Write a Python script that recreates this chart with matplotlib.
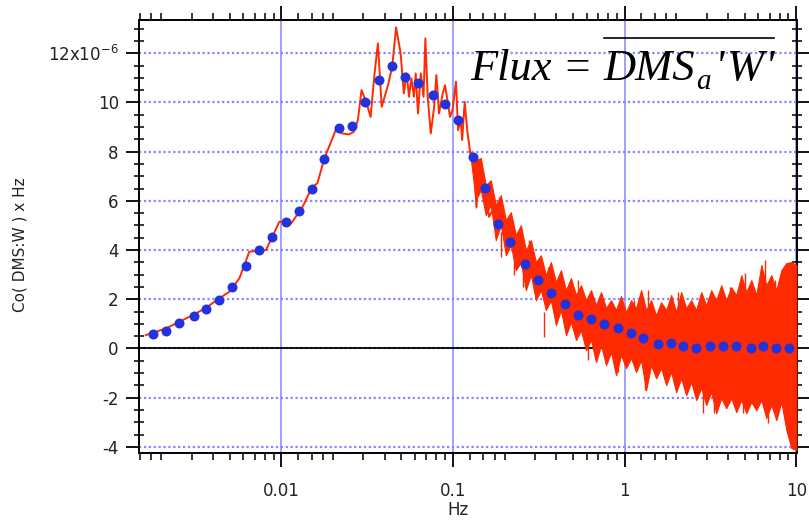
import matplotlib
matplotlib.use("Agg")
import matplotlib.pyplot as plt
from matplotlib.lines import Line2D
import numpy as np

# cospectrum (units of 1e-6), low-frequency part read as a single line
line_hz = [0.00162, 0.00212, 0.00254, 0.00303, 0.00364, 0.00433, 0.00497, 0.00569,
           0.0065, 0.00814, 0.00973, 0.0114, 0.0133, 0.0151, 0.0162, 0.0178, 0.0207,
           0.0226, 0.0247, 0.0264, 0.0279, 0.0293, 0.0312, 0.0331, 0.0349, 0.0365,
           0.0384, 0.0418, 0.0442, 0.0466, 0.0495, 0.0517, 0.0537, 0.0554, 0.0572,
           0.0592, 0.0606, 0.0625, 0.0649, 0.0673, 0.0690, 0.0712, 0.0742, 0.0776,
           0.0800, 0.0829, 0.0867, 0.0898, 0.0928, 0.0960, 0.0993, 0.104, 0.107,
           0.111, 0.113, 0.117, 0.121, 0.126, 0.132, 0.137, 0.141, 0.148, 0.155,
           0.162, 0.170]
line_val = [0.54, 0.81, 1.08, 1.35, 1.65, 2.03, 2.30, 2.85, 3.93, 4.00, 5.15, 5.08,
            5.76, 6.57, 6.71, 7.72, 8.87, 8.74, 8.70, 8.80, 9.28, 10.50, 10.02, 9.41,
            11.18, 12.40, 9.82, 10.70, 11.45, 13.05, 12.0, 10.37, 11.18, 10.23, 10.98,
            10.23, 11.18, 9.55, 11.18, 10.23, 12.6, 10.23, 8.74, 9.82, 11.11, 9.55,
            10.30, 10.70, 10.09, 9.41, 9.69, 10.84, 8.87, 9.28, 8.47, 10.02, 8.87,
            7.93, 7.52, 5.76, 7.65, 6.71, 6.30, 5.35, 5.62]

# high-frequency part: noisy band, upper / lower envelope
band_hz = [0.1269, 0.1357, 0.1451, 0.1552, 0.1660, 0.1775, 0.1899, 0.2031, 0.2172,
           0.2323, 0.2485, 0.2657, 0.2842, 0.3040, 0.3251, 0.3477, 0.3719, 0.3977,
           0.4254, 0.4550, 0.4866, 0.5204, 0.5566, 0.5953, 0.6367, 0.6809, 0.7283,
           0.7789, 0.8330, 0.8909, 0.9528, 1.019, 1.090, 1.166, 1.247, 1.333, 1.426,
           1.525, 1.631, 1.745, 1.866, 1.996, 2.134, 2.283, 2.442, 2.611, 2.793,
           2.987, 3.195, 3.417, 3.654, 3.908, 4.180, 4.471, 4.781, 5.114, 5.470,
           5.850, 6.257, 6.692, 7.155, 7.653, 8.185, 8.754, 9.363, 10.01]
band_hi = [8.00, 7.65, 7.74, 6.64, 6.84, 5.83, 6.23, 5.22, 5.54, 4.61, 5.01, 3.99,
           4.40, 3.51, 3.79, 2.98, 3.51, 2.70, 3.18, 2.37, 2.86, 2.17, 2.57, 1.96,
           2.37, 1.76, 2.29, 1.64, 1.96, 1.56, 2.13, 1.48, 1.96, 1.64, 2.37, 1.56,
           1.96, 1.35, 1.88, 1.56, 2.17, 1.48, 2.29, 1.64, 1.96, 1.56, 2.29, 1.76,
           2.37, 1.96, 2.57, 1.96, 2.49, 2.17, 2.98, 2.29, 2.78, 2.17, 3.39, 2.57,
           2.98, 2.37, 3.18, 3.47, 3.51, 3.39]
band_lo = [7.70, 6.03, 6.44, 5.42, 5.83, 4.40, 5.01, 3.79, 4.20, 3.18, 3.51, 2.37,
           2.98, 1.96, 2.37, 1.56, 1.96, 0.95, 1.56, 0.54, 1.07, 0.34, 0.74, -0.07,
           0.34, -0.56, 0.13, -0.68, -0.15, -1.09, -0.27, -0.80, -0.39, -0.96, -0.48,
           -1.70, -0.68, -1.21, -0.80, -1.49, -0.96, -1.78, -1.21, -1.90, -1.37,
           -2.10, -1.61, -2.30, -1.78, -2.63, -2.02, -2.43, -2.02, -2.59, -2.10,
           -2.63, -2.18, -2.51, -2.10, -2.83, -2.30, -2.91, -2.18, -3.32, -4.05, -4.13]

# isolated spikes sticking out of the band (tip values)
spike_up_hz = [0.1856, 0.2271, 0.2778, 0.3557, 0.5325, 0.6514, 1.135, 1.364, 2.042,
               4.086, 4.998, 6.539, 7.479, 8.754]
spike_up_val = [6.16, 4.00, 4.40, 3.32, 2.78, 2.10, 1.96, 2.37, 2.30, 2.50, 3.05,
                3.59, 2.78, 3.46]
spike_dn_hz = [0.1357, 0.1899, 0.2542, 0.3384, 0.6113, 0.9114, 1.315, 2.857, 3.326,
               4.891, 6.845]
spike_dn_val = [5.69, 3.72, 2.50, 0.47, -0.48, -0.95, -1.70, -2.64, -2.63, -2.64, -3.05]

# bin averages (blue dots)
bin_hz = [0.00179, 0.00214, 0.00254, 0.00308, 0.00366, 0.00435, 0.00518, 0.00622,
          0.00744, 0.00883, 0.0107, 0.0127, 0.0151, 0.0178, 0.0218, 0.0259, 0.0306,
          0.0372, 0.0442, 0.0525, 0.0622, 0.0761, 0.0898, 0.107, 0.130, 0.154, 0.184,
          0.216, 0.263, 0.312, 0.370, 0.449, 0.532, 0.637, 0.755, 0.915, 1.09, 1.28,
          1.56, 1.85, 2.19, 2.61, 3.16, 3.75, 4.45, 5.42, 6.43, 7.63, 9.04]
bin_val = [0.57, 0.69, 1.02, 1.31, 1.60, 1.96, 2.48, 3.36, 4.02, 4.54, 5.13, 5.58,
           6.48, 7.72, 8.98, 9.04, 10.02, 10.91, 11.50, 11.04, 10.77, 10.31, 9.94,
           9.28, 7.79, 6.54, 5.05, 4.32, 3.44, 2.78, 2.26, 1.80, 1.35, 1.20, 0.99,
           0.84, 0.61, 0.41, 0.17, 0.24, 0.09, 0.02, 0.09, 0.09, 0.09, 0.02, 0.09,
           0.02, 0.02]

y_ticks = [-4, -2, 0, 2, 4, 6, 8, 10, 12]
y_labels = ["-4", "-2", "0", "2", "4", "6", "8", "10", r"12x10$^{-6}$"]
x_ticks = [0.01, 0.1, 1, 10]
x_labels = ["0.01", "0.1", "1", "10"]

RED = "#ff2a00"
BLUE = "#2233dd"
GRID = "#8585ff"
W, H = 809, 522

plt.rcParams["font.family"] = "DejaVu Sans"
fig = plt.figure(figsize=(W / 100, H / 100), dpi=100)
ax = fig.add_axes([0.1718, 0.1322, 0.8134, 0.8295])

ax.set_xscale("log")
ax.set_xlim(0.00148, 10.1)
ax.set_ylim(-4.25, 13.35)

# grid: solid vertical at decades, dotted horizontal at major y
for xv in x_ticks:
    ax.axvline(xv, color=GRID, lw=1.1, zorder=1)
for yv in y_ticks:
    ax.axhline(yv, color=GRID, lw=1.6, ls=(0, (1, 1.2)), zorder=1)
ax.axhline(0, color="black", lw=1.3, zorder=2)

ax.plot(line_hz, line_val, color=RED, lw=1.4, zorder=3)
ax.fill_between(band_hz, band_lo, band_hi, color=RED, lw=0.8, edgecolor=RED, zorder=3)
# short hair-like spikes: from the tip back into the band
ax.vlines(spike_up_hz, np.array(spike_up_val) - 1.0, spike_up_val, color=RED, lw=1.0, zorder=3)
ax.vlines(spike_dn_hz, spike_dn_val, np.array(spike_dn_val) + 1.0, color=RED, lw=1.0, zorder=3)
ax.plot(bin_hz, bin_val, "o", color=BLUE, ms=7.2, mec="none", zorder=4)

# ticks
ax.set_xticks(x_ticks)
ax.set_xticklabels(x_labels)
minor_x = [m * 10.0 ** e for e in range(-3, 2) for m in (1.25, 1.5, 1.75, 2, 3, 4, 5, 6, 7, 8, 9)]
ax.set_xticks([v for v in minor_x if 0.00148 <= v <= 10.1], minor=True)
ax.set_xticklabels([], minor=True)
ax.set_yticks(y_ticks)
ax.set_yticklabels(y_labels)
ax.set_yticks(np.arange(-4, 13.5, 0.5), minor=True)

ax.tick_params(axis="x", which="major", direction="out", length=10, width=1.3,
               top=True, labelsize=12, pad=11, labelcolor="#222222")
ax.tick_params(axis="x", which="minor", direction="out", length=5, width=1.1, top=True)
ax.tick_params(axis="y", which="major", direction="out", length=9.5, width=1.3,
               right=True, labelsize=12, pad=5, labelcolor="#222222")
ax.tick_params(axis="y", which="minor", direction="inout", length=7, width=1.1, right=True)
for sp in ax.spines.values():
    sp.set_linewidth(1.4)

ax.set_xlabel("Hz", fontsize=12, color="#222222", va="center")
ax.xaxis.set_label_coords((458 - 139) / 658, (453 - 510) / 433)
ax.set_ylabel("Co( DMS:W ) x Hz", fontsize=11, color="#222222", va="center")
ax.yaxis.set_label_coords((20 - 139) / 658, (453 - 245) / 433)

# flux formula, laid out piece by piece so the quotes stay upright
fig.canvas.draw()
rend = fig.canvas.get_renderer()
serif = dict(family="Liberation Serif", style="italic", va="baseline", ha="left")
xpx, base = 470, H - 80
# text, size, vertical shift (px), gap after (px)
pieces = [("Flux = ", 32, 0, 0), ("DMS", 32, 0, 1), ("a", 21, -9, 4),
          ("'", 32, 0, 2), ("W", 32, 0, 1), ("'", 32, 0, 0)]
bar_start = None
for txt, size, dy, gap in pieces:
    if txt == "DMS":
        bar_start = xpx
    t = fig.text(xpx / W, (base + dy) / H, txt, fontsize=size, **serif)
    xpx += t.get_window_extent(rend).width + gap
fig.add_artist(Line2D([bar_start / W, xpx / W], [(H - 38) / H] * 2,
                      color="black", lw=1.2))

fig.savefig("out.png", dpi=100)
